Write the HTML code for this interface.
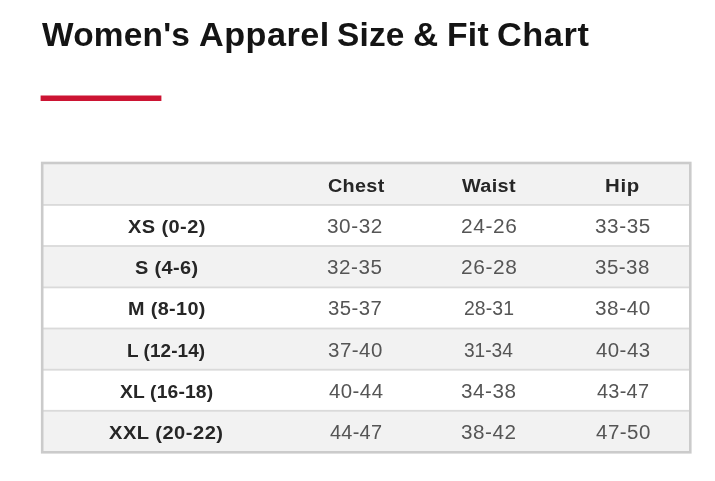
<!DOCTYPE html>
<html lang="en">
<head>
<meta charset="utf-8">
<title>Women's Apparel Size &amp; Fit Chart</title>
<style>
html,body{margin:0;padding:0;background:#fff;}
body{width:715px;height:481px;position:relative;overflow:hidden;font-family:"Liberation Sans", Arial, sans-serif;}
span{position:absolute;white-space:nowrap;line-height:40px;transform-origin:0 50%;}
h1{position:absolute;left:0;top:0;width:715px;height:481px;margin:0;font-size:33px;font-weight:700;color:#141414;filter:grayscale(1) blur(0.4px);}
.grid{position:absolute;left:0;top:0;}
table{position:absolute;left:0;top:0;width:715px;height:481px;border-collapse:collapse;margin:0;filter:grayscale(1) blur(0.4px);}
td,th{padding:0;}
thead th{font-size:19.1px;font-weight:700;color:#262626;}
tbody th{font-size:18.8px;font-weight:700;color:#262626;}
tbody td{font-size:19.3px;font-weight:400;color:#555555;}
</style>
</head>
<body>
<h1><span style="left:41.83px;top:15.10px;letter-spacing:0.21px;transform:scaleX(1.013);">Women's</span> <span style="left:198.51px;top:15.10px;letter-spacing:0.47px;transform:scaleX(1.036);">Apparel</span> <span style="left:337.12px;top:15.10px;letter-spacing:0.18px;transform:scaleX(1.013);">Size</span> <span style="left:412.76px;top:15.10px;transform:scaleX(1.058);">&amp;</span> <span style="left:447.35px;top:15.10px;letter-spacing:0.25px;transform:scaleX(1.020);">Fit</span> <span style="left:496.70px;top:15.10px;letter-spacing:0.54px;transform:scaleX(1.040);">Chart</span></h1>
<svg class="grid" width="715" height="481" viewBox="0 0 715 481" aria-hidden="true">
<rect x="40.6" y="95.5" width="120.8" height="5.5" fill="#cc1433"/>
<rect x="42.20" y="163.30" width="648.10" height="42.10" fill="#f2f2f2"/>
<rect x="42.20" y="245.50" width="648.10" height="42.40" fill="#f2f2f2"/>
<rect x="42.20" y="328.00" width="648.10" height="42.20" fill="#f2f2f2"/>
<rect x="42.20" y="410.30" width="648.10" height="41.70" fill="#f2f2f2"/>
<rect x="42.20" y="204.00" width="648.10" height="1.80" fill="#dadada"/>
<rect x="42.20" y="245.10" width="648.10" height="1.80" fill="#dadada"/>
<rect x="42.20" y="286.50" width="648.10" height="1.80" fill="#dadada"/>
<rect x="42.20" y="327.60" width="648.10" height="1.80" fill="#dadada"/>
<rect x="42.20" y="368.80" width="648.10" height="1.80" fill="#dadada"/>
<rect x="42.20" y="409.90" width="648.10" height="1.80" fill="#dadada"/>
<rect x="42.20" y="163.00" width="648.10" height="289.30" fill="none" stroke="#cbcbcb" stroke-width="2.60"/>
</svg>
<table>
<thead><tr><th></th><th><span style="left:327.63px;top:165.90px;letter-spacing:0.31px;transform:scaleX(1.037);">Chest</span></th><th><span style="left:462.14px;top:165.90px;letter-spacing:0.32px;transform:scaleX(1.041);">Waist</span></th><th><span style="left:605.44px;top:165.90px;letter-spacing:0.61px;transform:scaleX(1.068);">Hip</span></th></tr></thead>
<tbody>
<tr><th><span style="left:127.70px;top:207.20px;letter-spacing:0.40px;transform:scaleX(1.064);">XS (0-2)</span></th><td><span style="left:327.12px;top:207.20px;letter-spacing:0.55px;transform:scaleX(1.075);">30-32</span></td><td><span style="left:461.00px;top:207.20px;letter-spacing:0.60px;transform:scaleX(1.082);">24-26</span></td><td><span style="left:594.82px;top:207.20px;letter-spacing:0.55px;transform:scaleX(1.074);">33-35</span></td></tr>
<tr><th><span style="left:134.67px;top:248.33px;letter-spacing:0.35px;transform:scaleX(1.060);">S (4-6)</span></th><td><span style="left:327.33px;top:248.33px;letter-spacing:0.51px;transform:scaleX(1.069);">32-35</span></td><td><span style="left:461.00px;top:248.33px;letter-spacing:0.60px;transform:scaleX(1.082);">26-28</span></td><td><span style="left:594.93px;top:248.33px;letter-spacing:0.47px;transform:scaleX(1.063);">35-38</span></td></tr>
<tr><th><span style="left:127.69px;top:289.46px;letter-spacing:0.34px;transform:scaleX(1.055);">M (8-10)</span></th><td><span style="left:327.84px;top:289.46px;letter-spacing:0.41px;transform:scaleX(1.054);">35-37</span></td><td><span style="left:464.17px;top:289.46px;letter-spacing:0.06px;transform:scaleX(1.008);">28-31</span></td><td><span style="left:594.92px;top:289.46px;letter-spacing:0.55px;transform:scaleX(1.074);">38-40</span></td></tr>
<tr><th><span style="left:127.35px;top:330.59px;letter-spacing:0.06px;transform:scaleX(1.009);">L (12-14)</span></th><td><span style="left:327.83px;top:330.59px;letter-spacing:0.46px;transform:scaleX(1.062);">37-40</span></td><td><span style="left:464.39px;top:330.59px;letter-spacing:-0.05px;transform:scaleX(0.994);">31-34</span></td><td><span style="left:595.86px;top:330.59px;letter-spacing:0.44px;transform:scaleX(1.058);">40-43</span></td></tr>
<tr><th><span style="left:119.82px;top:371.72px;letter-spacing:0.16px;transform:scaleX(1.025);">XL (16-18)</span></th><td><span style="left:328.56px;top:371.72px;letter-spacing:0.44px;transform:scaleX(1.057);">40-44</span></td><td><span style="left:461.23px;top:371.72px;letter-spacing:0.52px;transform:scaleX(1.070);">34-38</span></td><td><span style="left:596.67px;top:371.72px;letter-spacing:0.25px;transform:scaleX(1.033);">43-47</span></td></tr>
<tr><th><span style="left:109.40px;top:412.85px;letter-spacing:0.45px;transform:scaleX(1.071);">XXL (20-22)</span></th><td><span style="left:329.57px;top:412.85px;letter-spacing:0.25px;transform:scaleX(1.033);">44-47</span></td><td><span style="left:461.23px;top:412.85px;letter-spacing:0.52px;transform:scaleX(1.071);">38-42</span></td><td><span style="left:595.86px;top:412.85px;letter-spacing:0.47px;transform:scaleX(1.063);">47-50</span></td></tr>
</tbody></table>
</body></html>
